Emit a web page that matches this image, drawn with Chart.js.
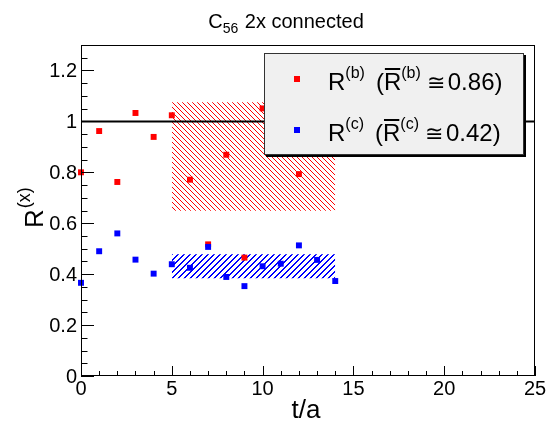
<!DOCTYPE html>
<html><head><meta charset="utf-8">
<script src="https://cdn.jsdelivr.net/npm/chart.js@4/dist/chart.umd.min.js"></script>
<style>html,body{margin:0;padding:0;background:#fff}#wrap{width:548px;height:423px;position:relative}</style>
</head><body><div id="wrap"><canvas id="c" width="548" height="423"></canvas></div>
<script>
// ---------- data ----------
const tValues = [0,1,2,3,4,5,6,7,8,9,10,11,12,13,14];
const rB = [0.800,0.962,0.762,1.033,0.939,1.024,0.771,0.517,0.869,0.465,1.051,1.10,0.793,1.00,1.02];
const rC = [0.366,0.490,0.560,0.457,0.402,0.439,0.425,0.507,0.389,0.353,0.431,0.441,0.513,0.456,0.373];
const bandRange = [5,14];
const bandB = [0.649,1.075];
const bandC = [0.384,0.478];
const unityLine = [1,1];
const unityRange = [0,25];
const xTicks = [0,5,10,15,20,25];
const yTicks = [0,0.2,0.4,0.6,0.8,1,1.2];
const yTickLabels = ['0','0.2','0.4','0.6','0.8','1','1.2'];
const xRange = [0,25];
const yRange = [0,1.3];

const FONT = '"Liberation Sans", Arial, Helvetica, sans-serif';

function hatch(color, spacing, dir, thick){
  const c = document.createElement('canvas');
  c.width = spacing; c.height = spacing;
  const g = c.getContext('2d');
  g.fillStyle = color;
  for (let i=0;i<spacing;i++){
    for (let t=0;t<thick;t++){
      if (dir === 'back') g.fillRect((i+t)%spacing, i, 1, 1);
      else g.fillRect((i+t)%spacing, spacing-1-i, 1, 1);
    }
  }
  return g.createPattern(c,'repeat');
}
const redHatch = hatch('#ff0000', 5, 'back', 1);
const blueHatch = hatch('#0000ff', 6, 'fwd', 2);

const pts = (xs, ys) => xs.map((x,i)=>({x:x, y:ys[i]}));

function drawRich(ctx, parts, x, y, measureOnly){
  let cx = x; const pos = [];
  parts.forEach(p=>{
    ctx.font = p.size + 'px ' + FONT;
    const w = ctx.measureText(p.t).width;
    if(!measureOnly){ ctx.fillText(p.t, cx, y + (p.dy||0)); }
    pos.push({x:cx, w:w});
    cx += w + (p.gap||0);
  });
  return {width: cx - x, pos: pos};
}

const rootPlugin = {
  id: 'rootStyle',
  afterDraw(chart){
    const ctx = chart.ctx;
    const a = chart.chartArea;
    const xs = chart.scales.x, ys = chart.scales.y;
    ctx.save();
    // frame
    ctx.strokeStyle = '#000'; ctx.lineWidth = 1;
    ctx.strokeRect(a.left+0.5, a.top+0.5, a.right-a.left-1, a.bottom-a.top-1);
    // ticks
    ctx.beginPath();
    for (let k=0; k<=26; k++){
      const v = k*0.05;
      const py = Math.round(ys.getPixelForValue(v))+0.5;
      const major = (k%4===0);
      ctx.moveTo(a.left, py); ctx.lineTo(a.left + (major?13:6.5), py);
    }
    for (let k=0; k<=25; k++){
      const px = Math.round(xs.getPixelForValue(k))+0.5;
      const major = (k%5===0);
      ctx.moveTo(px, a.bottom); ctx.lineTo(px, a.bottom - (major?10:5));
    }
    ctx.stroke();
    // tick labels
    ctx.fillStyle = '#000';
    ctx.font = '20px ' + FONT;
    ctx.textAlign = 'right'; ctx.textBaseline = 'middle';
    yTicks.forEach((v,i)=>{ ctx.fillText(yTickLabels[i], a.left-4, ys.getPixelForValue(v)+1); });
    ctx.textAlign = 'center'; ctx.textBaseline = 'alphabetic';
    xTicks.forEach(v=>{ ctx.fillText(String(v), xs.getPixelForValue(v), 395); });
    // x title
    ctx.font = '26px ' + FONT;
    ctx.textAlign = 'center';
    ctx.fillText('t/a', 306, 418);
    // y title (rotated)
    ctx.save();
    ctx.translate(43, 228); ctx.rotate(-Math.PI/2);
    ctx.textAlign = 'left';
    drawRich(ctx, [{t:'R', size:26, gap:1},{t:'(x)', size:18, dy:-13}], 0, 0);
    ctx.restore();
    // title
    ctx.textAlign = 'left';
    const tparts = [{t:'C', size:20},{t:'56', size:14, dy:5, gap:1},{t:' 2x connected', size:20}];
    const tw = drawRich(ctx, tparts, 0, 0, true).width;
    drawRich(ctx, tparts, 286 - tw/2, 28);
    // legend
    const L = {x:264, y:53, w:260, h:102};
    ctx.fillStyle = '#000';
    ctx.fillRect(L.x+2, L.y+2, L.w, L.h);
    ctx.fillStyle = '#f0f0f0';
    ctx.fillRect(L.x, L.y, L.w, L.h);
    ctx.strokeStyle = '#333'; ctx.lineWidth = 1;
    ctx.strokeRect(L.x+0.5, L.y+0.5, L.w-1, L.h-1);
    const rows = [{col:'#ff0000', s:'b', val:'0.86', my:79, base:90},
                  {col:'#0000ff', s:'c', val:'0.42', my:130, base:141}];
    rows.forEach(r=>{
      ctx.fillStyle = r.col;
      ctx.fillRect(294, r.my-3, 6, 6);
      ctx.fillStyle = '#000';
      const parts = [
        {t:'R', size:24},
        {t:'('+r.s+')', size:16, dy:-12, gap:11},
        {t:'(', size:24},
        {t:'R', size:24},
        {t:'('+r.s+')', size:16, dy:-12, gap:6},
        {t:'\u2245', size:22, gap:3},
        {t:r.val + ')', size:24}
      ];
      const res = drawRich(ctx, parts, 328, r.base);
      const rb = res.pos[3];
      ctx.fillRect(rb.x+1, r.base-22, rb.w-2, 2);
    });
    ctx.restore();
  }
};

new Chart(document.getElementById('c'), {
  type: 'scatter',
  data: {
    datasets: [
      {label:'bandB hi', data: pts(bandRange,[bandB[1],bandB[1]]), showLine:true, borderWidth:0, borderColor:'rgba(0,0,0,0)', pointRadius:0, fill:1, backgroundColor:redHatch, order:6},
      {label:'bandB lo', data: pts(bandRange,[bandB[0],bandB[0]]), showLine:true, borderWidth:0, borderColor:'rgba(0,0,0,0)', pointRadius:0, fill:false, order:5},
      {label:'bandC hi', data: pts(bandRange,[bandC[1],bandC[1]]), showLine:true, borderWidth:0, borderColor:'rgba(0,0,0,0)', pointRadius:0, fill:3, backgroundColor:blueHatch, order:4},
      {label:'bandC lo', data: pts(bandRange,[bandC[0],bandC[0]]), showLine:true, borderWidth:0, borderColor:'rgba(0,0,0,0)', pointRadius:0, fill:false, order:3},
      {label:'unity', data: pts(unityRange, unityLine), showLine:true, borderWidth:2, borderColor:'#000', pointRadius:0, fill:false, order:2},
      {label:'R(b)', data: pts(tValues, rB), pointStyle:'rect', pointRadius:4.2, pointBorderWidth:0, backgroundColor:'#ff0000', borderColor:'#ff0000', order:1, clip:false},
      {label:'R(c)', data: pts(tValues, rC), pointStyle:'rect', pointRadius:4.2, pointBorderWidth:0, backgroundColor:'#0000ff', borderColor:'#0000ff', order:0, clip:false}
    ]
  },
  options: {
    responsive:false, animation:false, devicePixelRatio:1,
    layout:{padding:{left:81, right:13, top:45, bottom:47}},
    scales:{
      x:{type:'linear', min:xRange[0], max:xRange[1], display:false},
      y:{type:'linear', min:yRange[0], max:yRange[1], display:false}
    },
    plugins:{legend:{display:false}, title:{display:false}, tooltip:{enabled:false}}
  },
  plugins:[rootPlugin]
});
</script>
</body></html>
